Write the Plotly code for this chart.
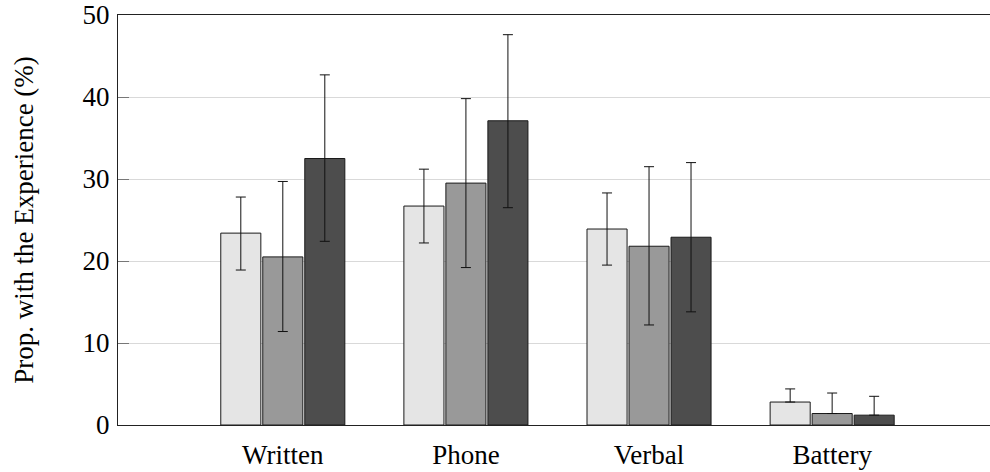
import plotly.graph_objects as go

categories = ["Written", "Phone", "Verbal", "Battery"]

# bar heights (%)
series1 = [23.4, 26.7, 23.9, 2.8]
series2 = [20.5, 29.5, 21.8, 1.4]
series3 = [32.5, 37.1, 22.9, 1.2]

# upper / lower bounds of error bars (%)
series1_hi = [27.8, 31.2, 28.3, 4.4]
series1_lo = [18.9, 22.2, 19.5, 2.8]
series2_hi = [29.7, 39.8, 31.5, 3.9]
series2_lo = [11.4, 19.2, 12.2, 1.4]
series3_hi = [42.7, 47.6, 32.0, 3.5]
series3_lo = [22.4, 26.5, 13.8, 1.2]

colors = ["#e5e5e5", "#999999", "#4d4d4d"]
names = ["Series 1", "Series 2", "Series 3"]

FONT = "Liberation Serif"
FS = 27

fig = go.Figure()
for vals, hi, lo, col, nm in [
    (series1, series1_hi, series1_lo, colors[0], names[0]),
    (series2, series2_hi, series2_lo, colors[1], names[1]),
    (series3, series3_hi, series3_lo, colors[2], names[2]),
]:
    fig.add_trace(go.Bar(
        x=categories, y=vals, name=nm,
        marker=dict(color=col, line=dict(color="#1a1a1a", width=1)),
        error_y=dict(
            type="data", symmetric=False,
            array=[h - v for h, v in zip(hi, vals)],
            arrayminus=[v - l for v, l in zip(vals, lo)],
            color="#111111", thickness=1, width=5,
        ),
    ))

fig.update_layout(
    width=990, height=472,
    margin=dict(l=118, r=0, t=15, b=47),
    paper_bgcolor="white", plot_bgcolor="white",
    barmode="group", bargap=0.312, bargroupgap=0.046,
    showlegend=False,
    font=dict(family=FONT, size=FS, color="#000000"),
)
fig.update_xaxes(
    range=[-0.9, 3.862],
    showline=True, linecolor="#222222", linewidth=1, mirror=True,
    ticks="", showgrid=False,
    tickfont=dict(family=FONT, size=FS),
    ticklabelstandoff=6,
)
fig.update_yaxes(
    range=[0, 50], tickvals=[0, 10, 20, 30, 40, 50],
    showline=True, linecolor="#222222", linewidth=1,
    ticks="inside", ticklen=11, tickcolor="#777777", tickwidth=1,
    showgrid=True, gridcolor="#d9d9d9", gridwidth=1,
    zeroline=False,
    tickfont=dict(family=FONT, size=FS),
    ticklabelstandoff=2,
    title=dict(text="Prop. with the Experience (%)", font=dict(family=FONT, size=FS), standoff=41),
)

fig.write_html("out.html")
